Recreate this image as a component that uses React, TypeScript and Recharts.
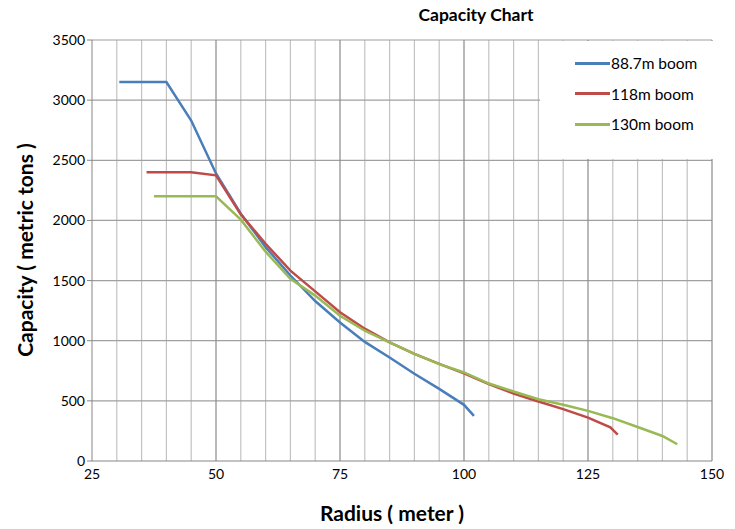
import React from "react";
import { LineChart, Line, XAxis, YAxis, ReferenceLine } from "recharts";

const radius887 = [30.5, 40, 45, 50, 55, 60, 65, 70, 75, 80, 85, 90, 95, 100, 102];
const cap887 = [3150, 3150, 2830, 2390, 2056, 1778, 1542, 1330, 1152, 990, 860, 725, 600, 467, 375];

const radius118 = [36, 45, 50, 55, 60, 65, 70, 75, 80, 85, 90, 95, 100, 105, 110, 115, 120, 125, 129.5, 131];
const cap118 = [2400, 2400, 2375, 2050, 1806, 1583, 1410, 1236, 1100, 986, 890, 808, 728, 640, 560, 495, 431, 361, 280, 220];

const radius130 = [37.5, 50, 55, 60, 65, 70, 75, 80, 85, 90, 95, 100, 105, 110, 115, 120, 125, 130, 135, 140, 143];
const cap130 = [2200, 2200, 2006, 1740, 1514, 1375, 1208, 1083, 986, 890, 805, 736, 644, 578, 514, 467, 417, 356, 283, 208, 139];

const xTicks = [25, 50, 75, 100, 125, 150];
const yTicks = [0, 500, 1000, 1500, 2000, 2500, 3000, 3500];

const seriesNames = ["88.7m boom", "118m boom", "130m boom"];
const seriesColors = ["#4a7ebb", "#be4b48", "#98b954"];

const toPoints = (xs: number[], ys: number[]) => xs.map((x, i) => ({ x, y: ys[i] }));
const series = [
  toPoints(radius887, cap887),
  toPoints(radius118, cap118),
  toPoints(radius130, cap130),
];

const minorX: number[] = [];
for (let v = 30; v < 150; v += 5) if (v % 25 !== 0) minorX.push(v);
const majorX = [50, 75, 100, 125, 150];

const FONT = "Lato, 'Open Sans', sans-serif";

export default function App() {
  return (
    <div style={{ position: "absolute", left: 0, top: 0, width: 735, height: 529, background: "#fff", fontFamily: FONT }}>
      <LineChart width={735} height={529} margin={{ top: 40, right: 23, bottom: 38, left: 32 }}>
        <XAxis
          type="number"
          dataKey="x"
          domain={[25, 150]}
          ticks={xTicks}
          allowDataOverflow
          tickLine={false}
          axisLine={{ stroke: "#868686" }}
          tick={{ fill: "#000", fontSize: 14, fontFamily: FONT }}
          height={30}
        />
        <YAxis
          type="number"
          dataKey="y"
          domain={[0, 3500]}
          ticks={yTicks}
          tickSize={5}
          tickLine={{ stroke: "#868686" }}
          axisLine={{ stroke: "#868686" }}
          tick={{ fill: "#000", fontSize: 14, fontFamily: FONT }}
          width={60}
        />
        {minorX.map((v) => (
          <ReferenceLine key={"mx" + v} x={v} stroke="#c2c2c2" strokeWidth={1.2} />
        ))}
        {yTicks.filter((v) => v > 0).map((v) => (
          <ReferenceLine key={"hy" + v} y={v} stroke="#a0a0a0" strokeWidth={1.2} />
        ))}
        {majorX.map((v) => (
          <ReferenceLine key={"Mx" + v} x={v} stroke="#8a8a8a" strokeWidth={1.2} />
        ))}
        {series.map((d, i) => (
          <Line
            key={seriesNames[i]}
            data={d}
            dataKey="y"
            name={seriesNames[i]}
            stroke={seriesColors[i]}
            strokeWidth={2.5}
            dot={false}
            isAnimationActive={false}
            type="linear"
          />
        ))}
      </LineChart>
      <div
        style={{
          position: "absolute",
          left: 540,
          top: 41,
          width: 195,
          height: 118,
          background: "#fff",
        }}
      >
        {seriesNames.map((n, i) => (
          <div
            key={n}
            style={{
              position: "absolute",
              left: 35,
              top: 12 + i * 30.5,
              height: 20,
              display: "flex",
              alignItems: "center",
              fontSize: 15.5,
              color: "#000",
            }}
          >
            <span style={{ display: "inline-block", width: 35, height: 3, background: seriesColors[i], marginRight: 1 }} />
            <span>{n}</span>
          </div>
        ))}
      </div>
      <div style={{ position: "absolute", left: 376, top: 4, width: 200, textAlign: "center", fontWeight: 700, fontSize: 17.5 }}>
        Capacity Chart
      </div>
      <div style={{ position: "absolute", left: 242, top: 500, width: 300, textAlign: "center", fontWeight: 700, fontSize: 21 }}>
        Radius ( meter )
      </div>
      <div
        style={{
          position: "absolute",
          left: 24,
          top: 250,
          width: 300,
          textAlign: "center",
          fontWeight: 700,
          fontSize: 21,
          transform: "translate(-50%, -50%) rotate(-90deg)",
          whiteSpace: "nowrap",
        }}
      >
        Capacity ( metric tons )
      </div>
    </div>
  );
}
